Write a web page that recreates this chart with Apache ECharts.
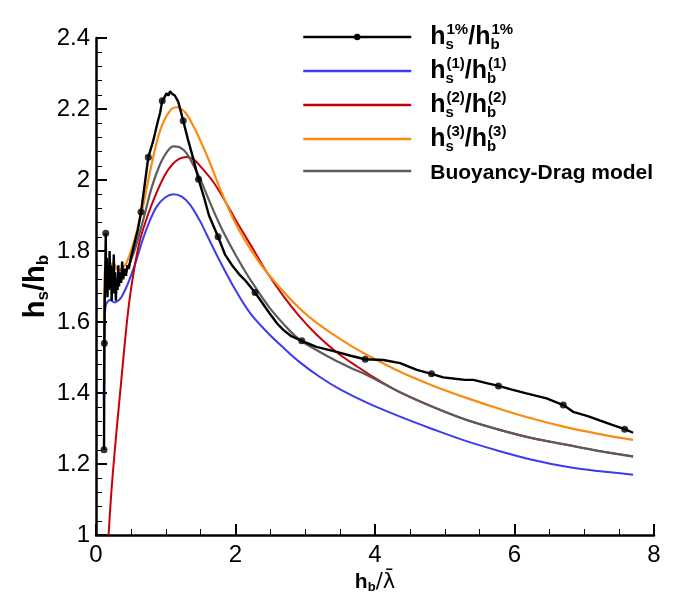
<!DOCTYPE html>
<html>
<head>
<meta charset="utf-8">
<script src="https://cdn.jsdelivr.net/npm/echarts@6/dist/echarts.min.js"></script>
<style>
  html, body { margin: 0; padding: 0; background: #fff; }
  #chart { width: 685px; height: 602px; }
</style>
</head>
<body>
<div id="chart"></div>
<script>
// Wave height ratio h_s/h_b against relative bar height h_b/λ̄

var xTicks = [0, 2, 4, 6, 8];
var yTicks = [1, 1.2, 1.4, 1.6, 1.8, 2, 2.2, 2.4];

var seriesNames = ['h1%', 'h(1)', 'h(2)', 'h(3)', 'Buoyancy-Drag model'];

// Measured 1% exceedance ratio (black, with markers)
var curve1pct = [
  [0.115, 1.24], [0.12, 1.54], [0.125, 1.64], [0.14, 1.85], [0.145, 1.70], [0.155, 1.78],
  [0.165, 1.67], [0.175, 1.76], [0.185, 1.69], [0.195, 1.80], [0.205, 1.70], [0.215, 1.76],
  [0.225, 1.66], [0.235, 1.73], [0.245, 1.70], [0.255, 1.79], [0.265, 1.68], [0.275, 1.74],
  [0.285, 1.66], [0.295, 1.72], [0.31, 1.69], [0.32, 1.76], [0.33, 1.70], [0.345, 1.74],
  [0.36, 1.71], [0.375, 1.77], [0.39, 1.72], [0.41, 1.75], [0.43, 1.73], [0.45, 1.76],
  [0.47, 1.75], [0.50, 1.78], [0.55, 1.82], [0.60, 1.86], [0.645, 1.91], [0.70, 1.99],
  [0.75, 2.064], [0.82, 2.11], [0.88, 2.16], [0.92, 2.19], [0.95, 2.223], [0.98, 2.232],
  [1.01, 2.244], [1.04, 2.238], [1.06, 2.25], [1.09, 2.243], [1.13, 2.238], [1.18, 2.22],
  [1.25, 2.167], [1.32, 2.113], [1.40, 2.056], [1.47, 2.002], [1.55, 1.95], [1.62, 1.90],
  [1.75, 1.84], [1.85, 1.79], [1.95, 1.76], [2.05, 1.735], [2.15, 1.715], [2.28, 1.683],
  [2.38, 1.655], [2.49, 1.624], [2.6, 1.595], [2.69, 1.577], [2.8, 1.56], [2.95, 1.547],
  [3.16, 1.53], [3.45, 1.516], [3.65, 1.505], [3.86, 1.495], [4.12, 1.493], [4.36, 1.484],
  [4.6, 1.465], [4.81, 1.454], [4.98, 1.444], [5.15, 1.44], [5.29, 1.437], [5.41, 1.437],
  [5.6, 1.428], [5.77, 1.42], [5.95, 1.41], [6.17, 1.399], [6.46, 1.385], [6.70, 1.366],
  [6.84, 1.347], [7.05, 1.335], [7.23, 1.322], [7.4, 1.31], [7.58, 1.298], [7.70, 1.288]
];

// Marker positions along the measured curve
var markers1pct = [
  [0.115, 1.24], [0.12, 1.54], [0.14, 1.85], [0.645, 1.91], [0.75, 2.064], [0.95, 2.223],
  [1.25, 2.167], [1.47, 2.002], [1.75, 1.84], [2.28, 1.683], [2.95, 1.547], [3.86, 1.495],
  [4.81, 1.454], [5.77, 1.42], [6.70, 1.366], [7.58, 1.298]
];

var curveH1 = [
  [0.11, 1.36], [0.115, 1.50], [0.12, 1.60], [0.135, 1.64], [0.15, 1.652], [0.2, 1.662],
  [0.27, 1.655], [0.33, 1.662], [0.37, 1.672], [0.44, 1.70], [0.5, 1.73], [0.58, 1.775],
  [0.65, 1.82], [0.75, 1.875], [0.87, 1.925], [1.0, 1.952], [1.11, 1.96], [1.23, 1.953],
  [1.35, 1.93], [1.49, 1.885], [1.59, 1.845], [1.78, 1.77], [2.0, 1.69], [2.21, 1.625],
  [2.45, 1.572], [2.69, 1.527], [2.92, 1.487], [3.21, 1.445], [3.5, 1.41], [3.89, 1.372],
  [4.35, 1.334], [4.83, 1.298], [5.3, 1.265], [5.79, 1.236], [6.25, 1.212], [6.75, 1.192],
  [7.2, 1.18], [7.70, 1.17]
];

var curveH2 = [
  [0.18, 1.0], [0.22, 1.12], [0.27, 1.24], [0.36, 1.43], [0.46, 1.63], [0.54, 1.74],
  [0.63, 1.83], [0.75, 1.905], [0.87, 1.965], [0.99, 2.015], [1.1, 2.045], [1.2, 2.06],
  [1.3, 2.065], [1.4, 2.058], [1.49, 2.04], [1.68, 1.995], [1.87, 1.934], [2.06, 1.868],
  [2.26, 1.803], [2.45, 1.74], [2.69, 1.672], [2.92, 1.615], [3.16, 1.565], [3.45, 1.515],
  [3.75, 1.474], [4.02, 1.44], [4.36, 1.402], [4.84, 1.36], [5.3, 1.325], [5.79, 1.296],
  [6.25, 1.273], [6.75, 1.254], [7.2, 1.237], [7.70, 1.222]
];

var curveH3 = [
  [0.115, 1.60], [0.125, 1.74], [0.14, 1.755], [0.2, 1.762], [0.25, 1.765], [0.32, 1.745],
  [0.38, 1.752], [0.44, 1.768], [0.535, 1.82], [0.63, 1.89], [0.68, 1.93], [0.77, 2.02],
  [0.92, 2.14], [1.06, 2.195], [1.16, 2.205], [1.28, 2.19], [1.40, 2.15], [1.51, 2.105],
  [1.63, 2.05], [1.78, 1.975], [1.97, 1.89], [2.16, 1.822], [2.40, 1.752], [2.69, 1.685],
  [2.92, 1.638], [3.16, 1.598], [3.4, 1.565], [3.64, 1.535], [3.88, 1.508], [4.36, 1.46],
  [4.84, 1.42], [5.3, 1.387], [5.79, 1.355], [6.25, 1.328], [6.75, 1.303], [7.2, 1.285],
  [7.70, 1.268]
];

var curveModel = [
  [0.115, 1.38], [0.12, 1.55], [0.13, 1.70], [0.15, 1.725], [0.2, 1.73], [0.27, 1.725],
  [0.32, 1.715], [0.38, 1.725], [0.45, 1.75], [0.55, 1.80], [0.68, 1.89], [0.8, 1.98],
  [0.92, 2.045], [1.02, 2.08], [1.11, 2.095], [1.2, 2.092], [1.30, 2.075], [1.40, 2.04],
  [1.5, 2.0], [1.59, 1.957], [1.78, 1.872], [1.97, 1.80], [2.11, 1.752], [2.21, 1.72],
  [2.49, 1.64], [2.78, 1.575], [2.92, 1.55], [3.16, 1.521], [3.4, 1.495], [3.64, 1.472],
  [3.93, 1.446], [4.36, 1.402], [4.84, 1.36], [5.3, 1.325], [5.79, 1.296], [6.25, 1.273],
  [6.75, 1.254], [7.2, 1.237], [7.70, 1.221]
];

var FONT = 'Liberation Sans, Arial, Helvetica, sans-serif';
var colors = ['#000000', '#3b3bf2', '#c8000a', '#f98c10', '#5c5c5c'];

// legend labels: h with stacked sub/superscripts
var legendText = {
  'h1%': '{h|h}{sub|s}{sup|1%}{h|/h}{sub|b}{sup|1%}',
  'h(1)': '{h|h}{sub|s}{sup|(1)}{h|/h}{sub|b}{sup|(1)}',
  'h(2)': '{h|h}{sub|s}{sup|(2)}{h|/h}{sub|b}{sup|(2)}',
  'h(3)': '{h|h}{sub|s}{sup|(3)}{h|/h}{sub|b}{sup|(3)}',
  'Buoyancy-Drag model': '{t|Buoyancy-Drag model}'
};

var chart = echarts.init(document.getElementById('chart'), null, { renderer: 'canvas' });

function lineSeries(name, data, color, width, symbol, smooth) {
  return {
    name: name,
    type: 'line',
    data: data,
    showSymbol: false,
    symbol: symbol || 'circle',
    symbolSize: 7,
    smooth: smooth,
    animation: false,
    color: color,
    lineStyle: { color: color, width: width },
    itemStyle: { color: color },
    z: 2
  };
}

var option = {
  backgroundColor: '#ffffff',
  animation: false,
  grid: { left: 96, right: 31, top: 38, bottom: 67, containLabel: false },
  legend: {
    orient: 'vertical',
    left: 297,
    top: 17,
    itemWidth: 108,
    itemHeight: 8,
    itemGap: 4,
    selectedMode: false,
    lineStyle: { width: 2.5 },
    data: [
      { name: 'h1%' },
      { name: 'h(1)', itemStyle: { opacity: 0 } },
      { name: 'h(2)', itemStyle: { opacity: 0 } },
      { name: 'h(3)', itemStyle: { opacity: 0 } },
      { name: 'Buoyancy-Drag model', itemStyle: { opacity: 0 } }
    ],
    formatter: function (name) { return legendText[name]; },
    textStyle: {
      color: '#000',
      fontFamily: FONT,
      padding: [0, 0, 0, 14],
      rich: {
        h: { fontSize: 25, fontWeight: 'bold', fontFamily: FONT, color: '#000', lineHeight: 30 },
        sup: { fontSize: 15, fontWeight: 'bold', fontFamily: FONT, color: '#000', verticalAlign: 'top', lineHeight: 15 },
        sub: { fontSize: 15, fontWeight: 'bold', fontFamily: FONT, color: '#000', verticalAlign: 'bottom', lineHeight: 15, width: 1 },
        t: { fontSize: 21, fontWeight: 'bold', fontFamily: FONT, color: '#000', lineHeight: 30, padding: [5, 0, 0, 0] }
      }
    }
  },
  xAxis: {
    type: 'value',
    min: xTicks[0],
    max: xTicks[xTicks.length - 1],
    interval: 2,
    name: '{b|h}{s|b}{n|/λ̄}',
    nameLocation: 'middle',
    nameGap: 32,
    nameTextStyle: {
      rich: {
        b: { fontSize: 21, fontWeight: 'bold', fontFamily: FONT, color: '#000', lineHeight: 24 },
        s: { fontSize: 13, fontWeight: 'bold', fontFamily: FONT, color: '#000', verticalAlign: 'bottom', lineHeight: 12 },
        n: { fontSize: 21, fontFamily: 'DejaVu Sans', color: '#000', lineHeight: 24 }
      }
    },
    axisLine: { show: true, onZero: false, lineStyle: { color: '#000', width: 2.5 } },
    axisTick: { show: true, inside: true, length: 11, lineStyle: { color: '#000', width: 2 } },
    minorTick: { show: true, splitNumber: 4, length: 6, lineStyle: { color: '#000', width: 1 } },
    splitLine: { show: false },
    axisLabel: { color: '#000', fontSize: 24, fontFamily: FONT, margin: 8 }
  },
  yAxis: {
    type: 'value',
    min: yTicks[0],
    max: yTicks[yTicks.length - 1],
    interval: 0.2,
    name: '{b|h}{s|s}{b|/h}{s|b}',
    nameLocation: 'middle',
    nameGap: 44,
    nameMoveOverlap: false,
    nameTextStyle: {
      rich: {
        b: { fontSize: 29, fontWeight: 'bold', fontFamily: FONT, color: '#000', lineHeight: 32 },
        s: { fontSize: 17, fontWeight: 'bold', fontFamily: FONT, color: '#000', verticalAlign: 'bottom', lineHeight: 16 }
      }
    },
    axisLine: { show: true, onZero: false, lineStyle: { color: '#000', width: 2.5 } },
    axisTick: { show: true, inside: true, length: 11, lineStyle: { color: '#000', width: 2 } },
    minorTick: { show: true, splitNumber: 5, length: 6, lineStyle: { color: '#000', width: 1 } },
    splitLine: { show: false },
    axisLabel: {
      color: '#000', fontSize: 24, fontFamily: FONT, margin: 6,
      formatter: function (v) { return String(Math.round(v * 10) / 10); }
    }
  },
  series: [
    lineSeries(seriesNames[1], curveH1, colors[1], 2, 'none', 0.35),
    lineSeries(seriesNames[2], curveH2, colors[2], 2, 'none', 0.35),
    lineSeries(seriesNames[3], curveH3, colors[3], 2.2, 'none', 0.35),
    lineSeries(seriesNames[4], curveModel, colors[4], 2.2, 'none', 0.35),
    lineSeries(seriesNames[0], curve1pct, colors[0], 2.4, 'circle', false),
    {
      name: 'markers',
      type: 'scatter',
      data: markers1pct,
      symbol: 'circle',
      symbolSize: 7,
      itemStyle: { color: '#000' },
      animation: false,
      z: 3
    }
  ]
};

chart.setOption(option);
</script>
</body>
</html>
